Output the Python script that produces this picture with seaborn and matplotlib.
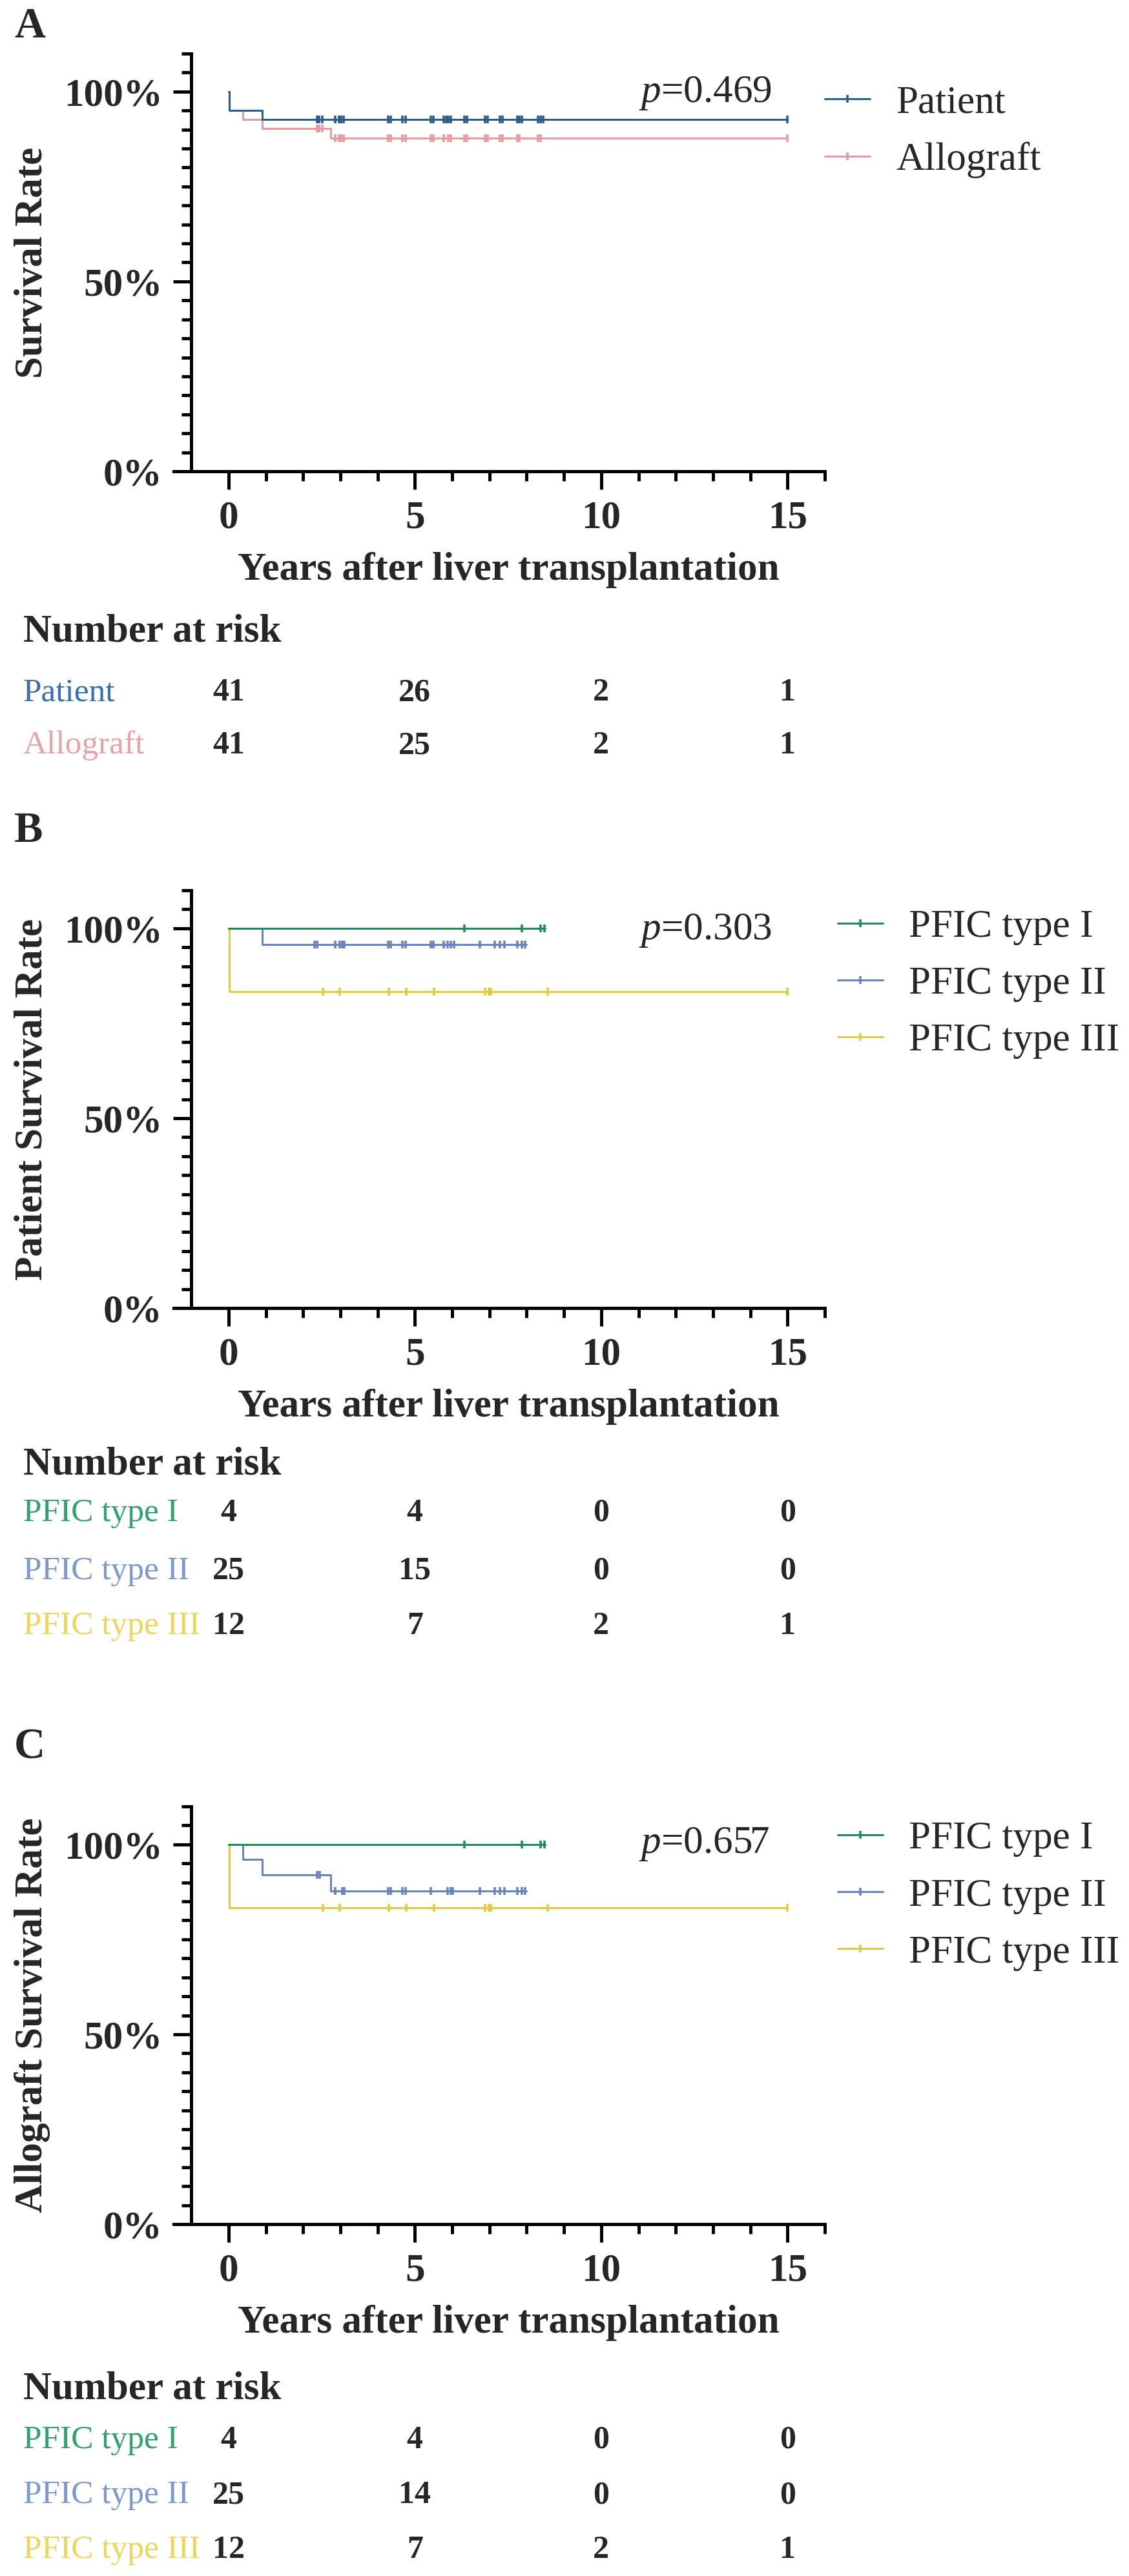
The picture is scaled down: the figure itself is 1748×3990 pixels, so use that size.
import numpy as np
import pandas as pd
import matplotlib
matplotlib.use('Agg')
import matplotlib.pyplot as plt
import matplotlib.transforms as mtransforms
from matplotlib.lines import Line2D
from matplotlib.ticker import MultipleLocator, FixedLocator
import seaborn as sns

#%% Data
x_ticks = [0, 5, 10, 15]
x_tick_labels = ['0', '5', '10', '15']
x_minor = list(range(0, 17))
y_ticks = [0, 0.5, 1.0]
y_tick_labels = ['0%', '50%', '100%']
risk_times = [0, 5, 10, 15]

# Panel A
a_patient_t = [0, 0.02, 0.9, 15]
a_patient_s = [1.0, 0.951, 0.927, 0.927]
a_patient_cens = [2.37, 2.43, 2.52, 2.86, 2.96, 3.02, 3.08, 4.29, 4.35, 4.66, 4.75,
                  5.43, 5.50, 5.77, 5.84, 5.90, 5.96, 6.33, 6.39, 6.89, 6.95, 7.29,
                  7.35, 7.75, 7.81, 7.88, 8.31, 8.38, 8.44, 15.0]
a_graft_t = [0, 0.02, 0.38, 0.9, 2.74, 15]
a_graft_s = [1.0, 0.951, 0.927, 0.902, 0.877, 0.877]
a_graft_cens = [2.37, 2.43, 2.52, 2.86, 2.96, 3.02, 3.08, 4.29, 4.35, 4.66, 4.75,
                5.43, 5.50, 5.77, 5.90, 5.96, 6.33, 6.39, 6.89, 6.95, 7.29, 7.35,
                7.75, 7.81, 8.31, 8.38, 15.0]
a_risk_patient = [41, 26, 2, 1]
a_risk_graft = [41, 25, 2, 1]

# Panels B and C (PFIC types)
type1_t = [0, 8.5]
type1_s = [1.0, 1.0]
type1_cens = [6.33, 7.87, 8.38, 8.48]
type3_t = [0, 0.02, 15]
type3_s = [1.0, 0.833, 0.833]
type3_cens = [2.54, 2.99, 4.30, 4.77, 5.51, 6.89, 6.98, 7.04, 8.56, 15.0]

b_type2_t = [0, 0.9, 8.0]
b_type2_s = [1.0, 0.958, 0.958]
b_type2_cens = [2.31, 2.37, 2.86, 2.99, 3.05, 3.11, 4.29, 4.35, 4.66, 4.75, 5.43,
                5.50, 5.77, 5.87, 5.96, 6.05, 6.74, 7.14, 7.29, 7.41, 7.75, 7.87, 7.96]
c_type2_t = [0, 0.38, 0.9, 2.74, 8.0]
c_type2_s = [1.0, 0.96, 0.92, 0.877, 0.877]
c_type2_cens = [2.37, 2.44, 2.86, 3.05, 3.11, 4.29, 4.35, 4.66, 4.75, 5.43, 5.87,
                5.96, 6.02, 6.74, 7.14, 7.29, 7.41, 7.75, 7.87, 7.96]

pfic_names = ['PFIC type I', 'PFIC type II', 'PFIC type III']
b_risk = [[4, 4, 0, 0], [25, 15, 0, 0], [12, 7, 2, 1]]
c_risk = [[4, 4, 0, 0], [25, 14, 0, 0], [12, 7, 2, 1]]

p_values = ['0.469', '0.303', '0.657']

#%% Style
sns.set_theme(style='ticks')
plt.rcParams['font.family'] = ['Liberation Serif', 'DejaVu Serif']
plt.rcParams['mathtext.fontset'] = 'custom'
plt.rcParams['mathtext.it'] = 'Liberation Serif:italic'
plt.rcParams['mathtext.rm'] = 'Liberation Serif'

col_patient, lab_patient = '#2B5C8F', '#3A6FAE'
col_graft, lab_graft = '#E89A9C', '#E8A3A3'
col_t1, lab_t1 = '#1E8C5A', '#2EA36C'
col_t2, lab_t2 = '#6784C0', '#7B98D0'
col_t3, lab_t3 = '#E6C93C', '#EED65C'

W, H, DPI = 1748, 3990, 200
AX_L, AX_W, AX_H = 269, 1008, 647   # x axis runs from -1.47 to 16, y spine sits at x=-1
fig = plt.figure(figsize=(W / DPI, H / DPI), dpi=DPI)


def fy(ypx):
    return 1 - ypx / H


def step_at(times, surv, xs):
    idx = np.searchsorted(times, xs, side='right') - 1
    return np.asarray(surv)[idx]


def km_panel(bottom_px, groups, legend_order, ylabel, pval, p_y, letter, letter_y,
             leg_x, leg_y, risk_rows, risk_ys):
    ax = fig.add_axes([AX_L / W, fy(bottom_px), AX_W / W, AX_H / H])
    handles = {}
    for name, t, s, cens, color in groups:
        df = pd.DataFrame({'t': t, 's': s})
        sns.lineplot(data=df, x='t', y='s', drawstyle='steps-post', estimator=None,
                     sort=False, color=color, lw=1.1, ax=ax)
        sns.scatterplot(x=cens, y=step_at(t, s, cens), marker='|', s=16,
                        color=color, linewidth=1.3, ax=ax, zorder=3)
        handles[name] = Line2D([0], [0], color=color, lw=1.1, marker='|',
                               markersize=4, mew=1.3)

    ax.set_xlim(-1.47, 16)
    ax.set_ylim(0, 1.1)
    ax.spines['left'].set_position(('data', -1))
    ax.set_xticks(x_ticks)
    ax.set_xticklabels(x_tick_labels, fontsize=22, fontweight='bold')
    ax.set_yticks(y_ticks)
    ax.set_yticklabels(y_tick_labels, fontsize=22, fontweight='bold')
    ax.xaxis.set_minor_locator(FixedLocator(x_minor))
    ax.yaxis.set_minor_locator(MultipleLocator(0.05))
    ax.tick_params(which='major', length=10, width=1.8, color='black', pad=6)
    ax.tick_params(which='minor', length=5.5, width=1.8, color='black')
    sns.despine(ax=ax)
    for sp in ['left', 'bottom']:
        ax.spines[sp].set_linewidth(1.8)
        ax.spines[sp].set_color('black')

    ax.set_xlabel('Years after liver transplantation', fontsize=22, fontweight='bold', va='center')
    ax.xaxis.set_label_coords((787 - AX_L) / AX_W, -153 / AX_H)
    ax.set_ylabel(ylabel, fontsize=22, fontweight='bold', va='center')
    ax.yaxis.set_label_coords((50 - AX_L) / AX_W, 0.5)

    ax.text(11.0, p_y, r'$p$=' + pval, fontsize=22, ha='left', va='center')

    ax.legend([handles[n] for n in legend_order], legend_order, loc='upper left',
              bbox_to_anchor=(leg_x, leg_y), frameon=False, fontsize=22,
              handlelength=1.15, handletextpad=0.65, labelspacing=0.53,
              borderaxespad=0, borderpad=0, numpoints=1)

    fig.text(22 / W, fy(letter_y), letter, fontsize=24, fontweight='bold', va='center')

    blend = mtransforms.blended_transform_factory(ax.transData, fig.transFigure)
    fig.text(36 / W, fy(risk_ys[0]), 'Number at risk', fontsize=22, fontweight='bold', va='center')
    for (label, counts, color), ypx in zip(risk_rows, risk_ys[1:]):
        fig.text(36 / W, fy(ypx), label, color=color, fontsize=18.5, va='center')
        for t, n in zip(risk_times, counts):
            ax.text(t, fy(ypx), str(n), transform=blend, ha='center', va='center',
                    fontsize=18, fontweight='bold')
    return ax


#%% Panel A
km_panel(730,
         [('Allograft', a_graft_t, a_graft_s, a_graft_cens, col_graft),
          ('Patient', a_patient_t, a_patient_s, a_patient_cens, col_patient)],
         ['Patient', 'Allograft'],
         'Survival Rate', p_values[0], 0.995, 'A', 41, 1.0, 0.925,
         [('Patient', a_risk_patient, lab_patient), ('Allograft', a_risk_graft, lab_graft)],
         [978, 1073, 1155])

#%% Panel B
km_panel(2026,
         [('PFIC type III', type3_t, type3_s, type3_cens, col_t3),
          ('PFIC type II', b_type2_t, b_type2_s, b_type2_cens, col_t2),
          ('PFIC type I', type1_t, type1_s, type1_cens, col_t1)],
         pfic_names,
         'Patient Survival Rate', p_values[1], 0.993, 'B', 1288, 1.02, 0.955,
         list(zip(pfic_names, b_risk, [lab_t1, lab_t2, lab_t3])),
         [2268, 2344, 2434, 2519])

#%% Panel C
km_panel(3445,
         [('PFIC type III', type3_t, type3_s, type3_cens, col_t3),
          ('PFIC type II', c_type2_t, c_type2_s, c_type2_cens, col_t2),
          ('PFIC type I', type1_t, type1_s, type1_cens, col_t1)],
         pfic_names,
         'Allograft Survival Rate', p_values[2], 1.0, 'C', 2707, 1.02, 0.965,
         list(zip(pfic_names, c_risk, [lab_t1, lab_t2, lab_t3])),
         [3700, 3780, 3865, 3950])

fig.savefig('out.png', dpi=DPI, facecolor='white')
